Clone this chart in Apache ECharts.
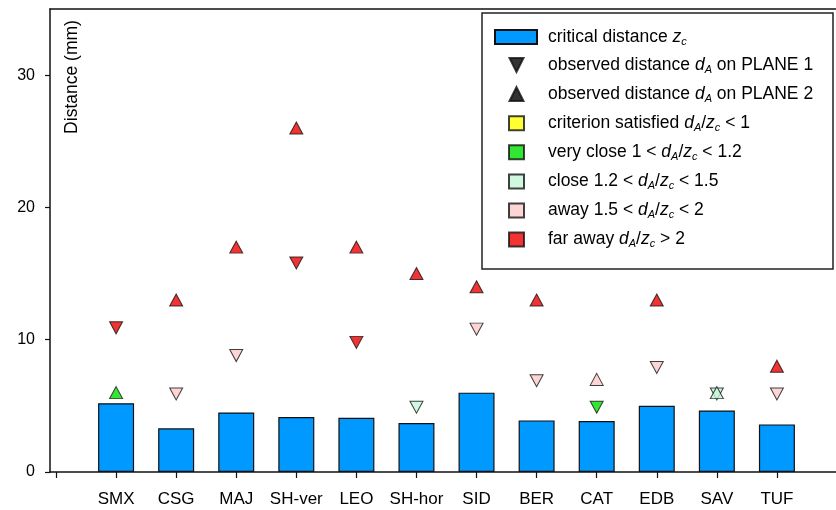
<!DOCTYPE html>
<html>
<head>
<meta charset="utf-8">
<script src="https://cdn.jsdelivr.net/npm/echarts@6/dist/echarts.min.js"></script>
<style>
html,body{margin:0;padding:0;background:#fff;overflow:hidden;}
#c{width:836px;height:510px;}
</style>
</head>
<body>
<div id="c"></div>
<script>
// ---- data ----
var categories = ['SMX','CSG','MAJ','SH-ver','LEO','SH-hor','SID','BER','CAT','EDB','SAV','TUF'];
var criticalDistance = [5.2, 3.3, 4.5, 4.15, 4.1, 3.7, 6.0, 3.9, 3.85, 5.0, 4.65, 3.6];
var plane1Distance = [10.9, 5.9, 8.8, 15.8, 9.8, 4.9, 10.8, 6.9, 4.9, 7.9, 5.9, 5.9];
var plane2Distance = [6.0, 13.0, 17.0, 26.0, 17.0, 15.0, 14.0, 13.0, 7.0, 13.0, 6.0, 8.0];
var plane1Class = ['far','away','away','far','far','close','away','away','veryClose','away','close','away'];
var plane2Class = ['veryClose','far','far','far','far','far','far','far','away','far','close','far'];
var yTicks = [0, 10, 20, 30];
var xTicks = [0, 1, 2, 3, 4, 5, 6, 7, 8, 9, 10, 11, 12, 13];

// ---- styles ----
var classColors = {
  satisfied: '#FFFF00',
  veryClose: '#00E000',
  close: '#C4F6DA',
  away: '#FCCACA',
  far: '#EE0000'
};
var classNames = {
  satisfied: 'criterion satisfied dA/zc < 1',
  veryClose: 'very close 1 < dA/zc < 1.2',
  close: 'close 1.2 < dA/zc < 1.5',
  away: 'away 1.5 < dA/zc < 2',
  far: 'far away dA/zc > 2'
};
var classOrder = ['satisfied','veryClose','close','away','far'];
var barName = 'critical distance zc';
var p1Name = 'observed distance dA on PLANE 1';
var p2Name = 'observed distance dA on PLANE 2';

var richLabels = {};
richLabels[barName] = '{g1|}{n|critical distance }{i|z}{s|c}';
richLabels[p1Name] = '{g2|}{n|observed distance }{i|d}{s|A}{n| on PLANE 1}';
richLabels[p2Name] = '{g2|}{n|observed distance }{i|d}{s|A}{n| on PLANE 2}';
richLabels[classNames.satisfied] = '{g2|}{n|criterion satisfied }{i|d}{s|A}{n|/}{i|z}{s|c}{n| < 1}';
richLabels[classNames.veryClose] = '{g2|}{n|very close 1 < }{i|d}{s|A}{n|/}{i|z}{s|c}{n| < 1.2}';
richLabels[classNames.close] = '{g2|}{n|close 1.2 < }{i|d}{s|A}{n|/}{i|z}{s|c}{n| < 1.5}';
richLabels[classNames.away] = '{g2|}{n|away 1.5 < }{i|d}{s|A}{n|/}{i|z}{s|c}{n| < 2}';
richLabels[classNames.far] = '{g2|}{n|far away }{i|d}{s|A}{n|/}{i|z}{s|c}{n| > 2}';

var FONT = '"Liberation Sans", Arial, sans-serif';
var downTri = 'path://M0,0L10,0L5,10Z';
var upTri = 'path://M5,0L10,10L0,10Z';

var legendText = {
  fontFamily: FONT, fontSize: 17.5, color: '#000', lineHeight: 20,
  rich: {
    g1: {width: 6, lineHeight: 20},
    g2: {width: 19, lineHeight: 20},
    n: {fontFamily: FONT, fontSize: 17.5, lineHeight: 20, color: '#000'},
    i: {fontFamily: FONT, fontSize: 17.5, fontStyle: 'italic', lineHeight: 20, color: '#000'},
    s: {fontFamily: FONT, fontSize: 11, fontStyle: 'italic', lineHeight: 11, verticalAlign: 'bottom', color: '#000'}
  }
};

var series = [];
series.push({
  name: barName, type: 'bar', barWidth: 36,
  itemStyle: {color: '#0099FF', borderColor: '#111', borderWidth: 1.2},
  data: categories.map(function (c, i) { return [i + 1, criticalDistance[i]]; }),
  z: 2
});
classOrder.forEach(function (k) {
  series.push({
    name: classNames[k], type: 'scatter', data: [],
    itemStyle: {color: classColors[k], borderColor: '#111', borderWidth: 1}
  });
});
series.push({
  name: p1Name, type: 'scatter', symbol: downTri, symbolSize: [13, 12],
  itemStyle: {color: '#000', borderColor: '#111', borderWidth: 1},
  data: categories.map(function (c, i) {
    return {value: [i + 1, plane1Distance[i]], itemStyle: {color: classColors[plane1Class[i]]}};
  }),
  z: 3
});
series.push({
  name: p2Name, type: 'scatter', symbol: upTri, symbolSize: [13, 12],
  itemStyle: {color: '#000', borderColor: '#111', borderWidth: 1},
  data: categories.map(function (c, i) {
    return {value: [i + 1, plane2Distance[i]], itemStyle: {color: classColors[plane2Class[i]]}};
  }),
  z: 4
});

var chart = echarts.init(document.getElementById('c'), null, {renderer: 'canvas'});
chart.setOption({
  animation: false,
  backgroundColor: '#fff',
  grid: {left: 50, top: 9, width: 793, height: 463, show: false, outerBoundsMode: 'none', containLabel: false},
  xAxis: [{
    type: 'value', min: -0.1, max: 13.1, position: 'bottom',
    splitLine: {show: false},
    axisLine: {show: true, onZero: false, lineStyle: {color: '#111', width: 1.5}},
    axisTick: {show: true, length: 6, lineStyle: {color: '#111', width: 1.2}, customValues: xTicks},
    axisLabel: {
      customValues: categories.map(function (c, i) { return i + 1; }),
      formatter: function (v) { return categories[Math.round(v) - 1] || ''; },
      fontFamily: FONT, fontSize: 17, color: '#000', margin: 19
    }
  }, {
    type: 'value', min: -0.1, max: 13.1, position: 'top',
    splitLine: {show: false},
    axisLine: {show: true, onZero: false, lineStyle: {color: '#111', width: 1.5}},
    axisTick: {show: false},
    axisLabel: {show: false}
  }],
  yAxis: {
    type: 'value', min: 0, max: 35, position: 'left',
    splitLine: {show: false},
    axisLine: {show: true, onZero: false, lineStyle: {color: '#111', width: 1.5}},
    axisTick: {show: true, length: 5, lineStyle: {color: '#111', width: 1.2}, customValues: yTicks},
    axisLabel: {customValues: yTicks, fontFamily: FONT, fontSize: 16, color: '#000', margin: 15}
  },
  legend: [
    {
      data: [barName], orient: 'vertical', left: 494, top: 27, padding: 0,
      itemWidth: 42, itemHeight: 14, selectedMode: false,
      icon: 'rect',
      formatter: function (n) { return richLabels[n]; },
      textStyle: legendText
    },
    {
      data: [
        {name: p1Name, icon: downTri},
        {name: p2Name, icon: upTri}
      ].concat(classOrder.map(function (k) { return {name: classNames[k], icon: 'rect'}; })),
      orient: 'vertical', left: 508, top: 55, padding: 0, itemGap: 9.1,
      itemWidth: 15, itemHeight: 14, selectedMode: false,
      formatter: function (n) { return richLabels[n]; },
      textStyle: legendText
    }
  ],
  graphic: [
    {type: 'rect', shape: {x: 834.2, y: 11, width: 4, height: 459}, style: {fill: '#fff', stroke: 'none'}, z: 9, silent: true},
    {type: 'rect', shape: {x: 482, y: 13, width: 351, height: 256}, style: {fill: 'none', stroke: '#222', lineWidth: 1.5}, z: 10, silent: true},
    {type: 'text', x: 72, y: 77, rotation: Math.PI / 2, style: {text: 'Distance (mm)', font: '17.5px ' + FONT, fill: '#000', textAlign: 'center', textVerticalAlign: 'middle'}, z: 10}
  ],
  series: series
});
</script>
</body>
</html>
